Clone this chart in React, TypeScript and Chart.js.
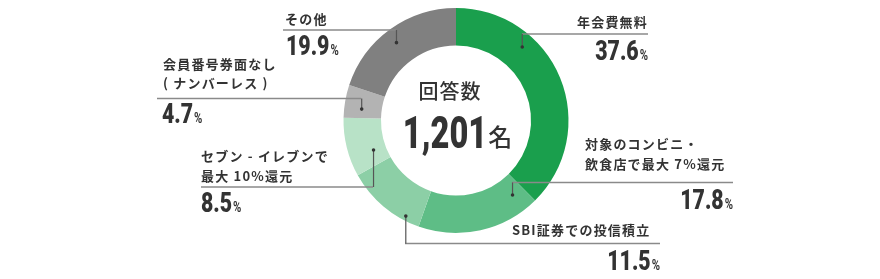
import React, { useEffect, useRef } from "react";
import { Chart, registerables } from "chart.js";

Chart.register(...registerables);

const categories = [
  "年会費無料",
  "対象のコンビニ・飲食店で最大 7%還元",
  "SBI証券での投信積立",
  "セブン - イレブンで最大 10%還元",
  "会員番号券面なし(ナンバーレス)",
  "その他",
];
const values = [37.6, 17.8, 11.5, 8.5, 4.7, 19.9];
const colors = ["#1a9f4d", "#5ebd86", "#8ccfa6", "#b8e2c7", "#b3b3b3", "#808080"];
const labelLines = [
  ["年会費無料"],
  ["対象のコンビニ・", "飲食店で最大 7%還元"],
  ["SBI証券での投信積立"],
  ["セブン - イレブンで", "最大 10%還元"],
  ["会員番号券面なし", "( ナンバーレス )"],
  ["その他"],
];
const centerTitle = "回答数";
const centerValue = "1,201";
const centerUnit = "名";

// layout of callouts (annotation positions only)
type Callout = {
  align: "left" | "right";
  textX: number;
  textBase: number[];
  lineY: number;
  lineX1: number;
  lineX2: number;
  pctX: number;
  pctBase: number;
  dotAngle: number; // degrees clockwise from top
  dotR: number;
};
const callouts: Callout[] = [
  { align: "right", textX: 648, textBase: [27], lineY: 34, lineX1: 522, lineX2: 648, pctX: 648, pctBase: 60, dotAngle: 42, dotR: 99 },
  { align: "left", textX: 585, textBase: [149, 169], lineY: 182.5, lineX1: 512, lineX2: 733, pctX: 733, pctBase: 208.5, dotAngle: 142.8, dotR: 93.5 },
  { align: "left", textX: 512, textBase: [235], lineY: 243.5, lineX1: 405, lineX2: 660, pctX: 660, pctBase: 270, dotAngle: 207.7, dotR: 108 },
  { align: "left", textX: 201, textBase: [160.5, 180.5], lineY: 187, lineX1: 201, lineX2: 373, pctX: 201, pctBase: 211.5, dotAngle: 250.3, dotR: 87.6 },
  { align: "left", textX: 163, textBase: [69, 88], lineY: 98.5, lineX1: 157, lineX2: 361, pctX: 162, pctBase: 123, dotAngle: 276.9, dotR: 95 },
  { align: "left", textX: 285, textBase: [24], lineY: 30, lineX1: 283, lineX2: 396, pctX: 286, pctBase: 55, dotAngle: 322.6, dotR: 98 },
];

const JP = '"Noto Sans CJK JP", "Noto Sans", sans-serif';
const NUM = 'Roboto, "Liberation Sans", sans-serif';

function drawCondensed(ctx: CanvasRenderingContext2D, text: string, x: number, y: number, scale: number) {
  ctx.save();
  ctx.translate(x, y);
  ctx.scale(scale, 1);
  ctx.textAlign = "left";
  ctx.fillText(text, 0, 0);
  ctx.restore();
}

function drawPct(ctx: CanvasRenderingContext2D, v: number, x: number, y: number, align: "left" | "right") {
  const num = v.toFixed(1);
  ctx.fillStyle = "#333333";
  ctx.textBaseline = "alphabetic";
  ctx.font = `bold 15px ${NUM}`;
  const pw = ctx.measureText("%").width * 0.75;
  ctx.font = `900 28px ${NUM}`;
  const nw = ctx.measureText(num).width * 0.76;
  const total = nw + pw + 1;
  const sx = align === "left" ? x : x - total;
  drawCondensed(ctx, num, sx, y, 0.76);
  ctx.font = `bold 15px ${NUM}`;
  drawCondensed(ctx, "%", sx + nw + 1, y, 0.75);
}

const calloutPlugin = {
  id: "callouts",
  afterDraw(chart: any) {
    const ctx: CanvasRenderingContext2D = chart.ctx;
    const arc = chart.getDatasetMeta(0).data[0];
    if (!arc) return;
    const cx = arc.x;
    const cy = arc.y;
    ctx.save();
    callouts.forEach((c, i) => {
      const a = (c.dotAngle * Math.PI) / 180;
      const dx = cx + Math.sin(a) * c.dotR;
      const dy = cy - Math.cos(a) * c.dotR;
      ctx.strokeStyle = "#8a8a8a";
      ctx.lineWidth = 1.5;
      ctx.beginPath();
      ctx.moveTo(c.lineX1, c.lineY);
      ctx.lineTo(c.lineX2, c.lineY);
      ctx.stroke();
      ctx.strokeStyle = "#555555";
      ctx.lineWidth = 1.2;
      ctx.beginPath();
      ctx.moveTo(dx, c.lineY);
      ctx.lineTo(dx, dy);
      ctx.stroke();
      ctx.fillStyle = "#333333";
      ctx.beginPath();
      ctx.arc(dx, dy, 1.8, 0, Math.PI * 2);
      ctx.fill();
      ctx.font = `bold 13px ${JP}`;
      (ctx as any).letterSpacing = "1.2px";
      ctx.fillStyle = "#333333";
      ctx.textBaseline = "alphabetic";
      ctx.textAlign = c.align;
      labelLines[i].forEach((t, j) => {
        ctx.fillText(t, c.textX, c.textBase[j]);
      });
      (ctx as any).letterSpacing = "0px";
      drawPct(ctx, values[i], c.pctX, c.pctBase, c.pctX > 500 ? "right" : "left");
    });
    ctx.fillStyle = "#333333";
    ctx.textAlign = "center";
    ctx.textBaseline = "alphabetic";
    ctx.font = `500 20px ${JP}`;
    (ctx as any).letterSpacing = "1px";
    ctx.fillText(centerTitle, cx - 6, 99);
    (ctx as any).letterSpacing = "0px";
    ctx.font = `900 44px ${NUM}`;
    const vw = ctx.measureText(centerValue).width * 0.74;
    ctx.font = `500 24px ${JP}`;
    const uw = ctx.measureText(centerUnit).width;
    const startX = cx - (vw + uw) / 2 + 1;
    ctx.font = `900 44px ${NUM}`;
    drawCondensed(ctx, centerValue, startX, 148, 0.74);
    ctx.font = `500 24px ${JP}`;
    ctx.textAlign = "left";
    ctx.fillText(centerUnit, startX + vw + 1, 146);
    ctx.restore();
  },
};

export default function App() {
  const ref = useRef<HTMLCanvasElement>(null);
  useEffect(() => {
    document.body.style.margin = "0";
    const chart = new Chart(ref.current!, {
      type: "doughnut",
      data: {
        labels: categories,
        datasets: [
          {
            data: values,
            backgroundColor: colors,
            borderWidth: 0,
            hoverOffset: 0,
          },
        ],
      },
      options: {
        responsive: false,
        animation: false,
        cutout: "66.7%",
        layout: { padding: { top: 8, bottom: 46, left: 343, right: 311 } },
        plugins: { legend: { display: false }, tooltip: { enabled: false } },
      },
      plugins: [calloutPlugin],
    });
    return () => chart.destroy();
  }, []);
  return <canvas ref={ref} width={880} height={279} style={{ display: "block" }} />;
}
